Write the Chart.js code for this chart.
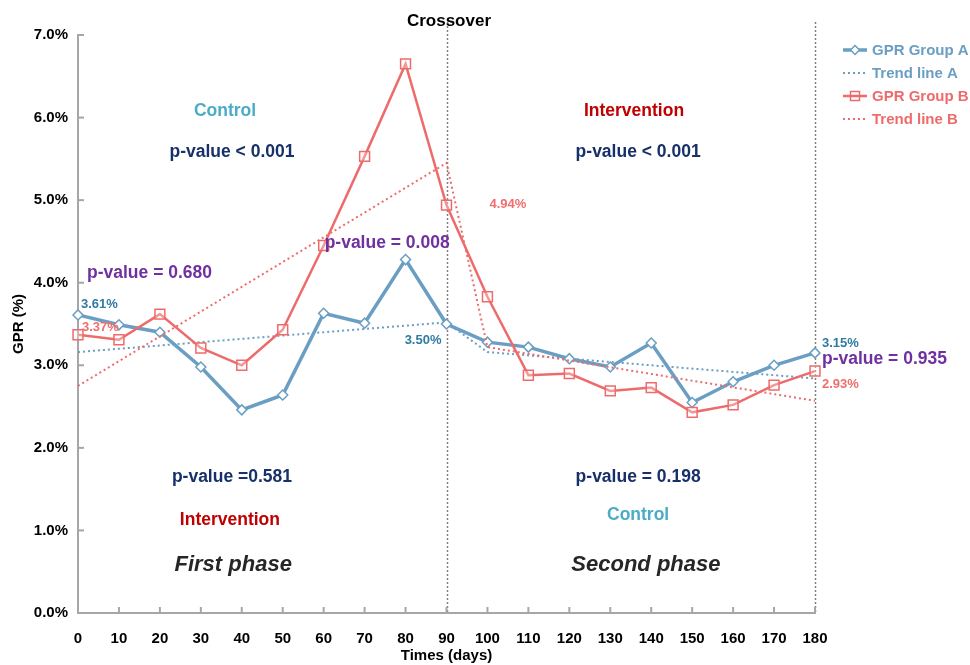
<!DOCTYPE html>
<html>
<head>
<meta charset="utf-8">
<script src="https://cdn.jsdelivr.net/npm/chart.js@4.4.1/dist/chart.umd.min.js"></script>
<style>
  html, body { margin: 0; padding: 0; background: #fff; }
</style>
</head>
<body>
<canvas id="gprChart" width="970" height="665"></canvas>
<script>
// Data
const days = [0, 10, 20, 30, 40, 50, 60, 70, 80, 90, 100, 110, 120, 130, 140, 150, 160, 170, 180];
const groupA = [3.61, 3.49, 3.40, 2.98, 2.46, 2.64, 3.63, 3.51, 4.28, 3.50, 3.28, 3.22, 3.08, 2.98, 3.27, 2.55, 2.80, 3.00, 3.15];
const groupB = [3.37, 3.31, 3.62, 3.21, 3.00, 3.43, 4.45, 5.53, 6.65, 4.94, 3.83, 2.88, 2.90, 2.69, 2.73, 2.43, 2.52, 2.76, 2.93];
// trend lines: fitted per phase, only their end points are drawn
const trendDays = [0, 90, 100, 180];
const trendA = [3.16, 3.52, 3.16, 2.84];
const trendB = [2.75, 5.45, 3.22, 2.57];
const yTicks = [0, 1, 2, 3, 4, 5, 6, 7];
const phaseLines = [90, 180];

const blue = '#6A9EC2';
const red = '#EE6B6B';
const blueLbl = '#2F7BA2';
const redLbl = '#F06E6E';
const navy = '#17306A';
const purple = '#7030A0';
const cyan = '#4BACC6';
const darkRed = '#C00000';

const FONT = '"Liberation Sans", Arial, sans-serif';

// text placed on the data grid: [text, day, value, color, size, align, italic]
const notes = [
  ['Crossover', 90.6, 7.17, '#000', 17, 'center', false],
  ['Control', 35.9, 6.08, cyan, 17.5, 'center', false],
  ['p-value < 0.001', 37.6, 5.58, navy, 17.5, 'center', false],
  ['p-value = 0.680', 2.2, 4.11, purple, 17.5, 'left', false],
  ['p-value = 0.008', 75.5, 4.48, purple, 17.5, 'center', false],
  ['Intervention', 135.8, 6.08, darkRed, 17.5, 'center', false],
  ['p-value < 0.001', 136.8, 5.58, navy, 17.5, 'center', false],
  ['p-value =0.581', 37.6, 1.65, navy, 17.5, 'center', false],
  ['Intervention', 37.1, 1.12, darkRed, 17.5, 'center', false],
  ['First phase', 37.9, 0.58, '#262626', 22, 'center', true],
  ['p-value = 0.198', 136.8, 1.65, navy, 17.5, 'center', false],
  ['Control', 136.8, 1.18, cyan, 17.5, 'center', false],
  ['Second phase', 138.7, 0.58, '#262626', 22, 'center', true],
  ['p-value = 0.935', 181.7, 3.08, purple, 17.5, 'left', false]
];

// value labels next to points: [datasetIndex, pointIndex, dx, dy, align]
const pointLabels = [
  [0, 0, 3, -10, 'left'],
  [2, 0, 4, -7, 'left'],
  [0, 9, -5, 16, 'right'],
  [2, 9, 43, -1, 'left'],
  [0, 18, 7, -9, 'left'],
  [2, 18, 7, 13, 'left']
];

const legendItems = [
  { text: 'GPR Group A', color: blue, dotted: false, style: 'diamond' },
  { text: 'Trend line A', color: blue, dotted: true },
  { text: 'GPR Group B', color: red, dotted: false, style: 'square' },
  { text: 'Trend line B', color: red, dotted: true }
];

const toPoints = (xs, ys) => xs.map((x, i) => ({ x: x, y: ys[i] }));

const decorPlugin = {
  id: 'decor',
  beforeDatasetsDraw(chart) {
    const ctx = chart.ctx;
    const x = chart.scales.x, y = chart.scales.y;
    ctx.save();
    ctx.strokeStyle = '#808080';
    ctx.lineWidth = 1.5;
    ctx.setLineDash([2, 2]);
    phaseLines.forEach(d => {
      const px = Math.round(x.getPixelForValue(d)) + 0.5;
      ctx.beginPath();
      ctx.moveTo(px, 22);
      ctx.lineTo(px, y.bottom);
      ctx.stroke();
    });
    ctx.restore();
  },
  afterDraw(chart) {
    const ctx = chart.ctx;
    const x = chart.scales.x, y = chart.scales.y;
    ctx.save();
    // inside tick marks
    ctx.strokeStyle = '#a6a6a6';
    ctx.lineWidth = 2;
    x.ticks.forEach(t => {
      const px = x.getPixelForValue(t.value);
      ctx.beginPath();
      ctx.moveTo(px, y.bottom);
      ctx.lineTo(px, y.bottom - 6);
      ctx.stroke();
    });
    y.ticks.forEach(t => {
      const py = y.getPixelForValue(t.value);
      ctx.beginPath();
      ctx.moveTo(x.left, py);
      ctx.lineTo(x.left + 6, py);
      ctx.stroke();
    });

    // annotations
    ctx.textBaseline = 'middle';
    notes.forEach(n => {
      ctx.font = (n[6] ? 'italic ' : '') + 'bold ' + n[4] + 'px ' + FONT;
      ctx.fillStyle = n[3];
      ctx.textAlign = n[5];
      ctx.fillText(n[0], x.getPixelForValue(n[1]), y.getPixelForValue(n[2]));
    });

    // point value labels
    ctx.font = 'bold 13px ' + FONT;
    pointLabels.forEach(p => {
      const ds = chart.data.datasets[p[0]];
      const pt = chart.getDatasetMeta(p[0]).data[p[1]];
      ctx.fillStyle = p[0] === 0 ? blueLbl : redLbl;
      ctx.textAlign = p[4];
      ctx.fillText(ds.data[p[1]].y.toFixed(2) + '%', pt.x + p[2], pt.y + p[3]);
    });

    // legend
    ctx.font = 'bold 15px ' + FONT;
    ctx.textAlign = 'left';
    legendItems.forEach((it, i) => {
      const ly = 50 + i * 23;
      ctx.strokeStyle = it.color;
      ctx.fillStyle = it.color;
      if (it.dotted) {
        ctx.lineWidth = 2;
        ctx.setLineDash([2, 3]);
      } else {
        ctx.lineWidth = it.style === 'diamond' ? 3.5 : 2.5;
        ctx.setLineDash([]);
      }
      ctx.beginPath();
      ctx.moveTo(843, ly);
      ctx.lineTo(867, ly);
      ctx.stroke();
      ctx.setLineDash([]);
      if (it.style === 'diamond') {
        ctx.lineWidth = 1.5;
        ctx.fillStyle = '#fff';
        ctx.beginPath();
        ctx.moveTo(855, ly - 4.5);
        ctx.lineTo(859.5, ly);
        ctx.lineTo(855, ly + 4.5);
        ctx.lineTo(850.5, ly);
        ctx.closePath();
        ctx.fill();
        ctx.stroke();
      } else if (it.style === 'square') {
        ctx.lineWidth = 1.5;
        ctx.strokeRect(850.5, ly - 4.5, 9, 9);
      }
      ctx.fillStyle = it.color;
      ctx.fillText(it.text, 872, ly + 1);
    });
    ctx.restore();
  }
};

new Chart(document.getElementById('gprChart'), {
  type: 'line',
  data: {
    datasets: [
      {
        label: 'GPR Group A',
        data: toPoints(days, groupA),
        borderColor: blue,
        borderWidth: 3.5,
        pointStyle: 'rectRot',
        pointRadius: 5,
        pointBackgroundColor: '#fff',
        pointBorderColor: blue,
        pointBorderWidth: 1.5,
        tension: 0,
        clip: false,
        order: 3
      },
      {
        label: 'Trend line A',
        data: toPoints(trendDays, trendA),
        borderColor: blue,
        borderWidth: 2,
        borderDash: [2, 3],
        pointRadius: 0,
        clip: false,
        order: 4
      },
      {
        label: 'GPR Group B',
        data: toPoints(days, groupB),
        borderColor: red,
        borderWidth: 2.5,
        pointStyle: 'rect',
        pointRadius: 7,
        pointBackgroundColor: 'rgba(255,255,255,0.3)',
        pointBorderColor: red,
        pointBorderWidth: 1.5,
        tension: 0,
        clip: false,
        order: 1
      },
      {
        label: 'Trend line B',
        data: toPoints(trendDays, trendB),
        borderColor: red,
        borderWidth: 2,
        borderDash: [2, 3],
        pointRadius: 0,
        clip: false,
        order: 2
      }
    ]
  },
  options: {
    responsive: false,
    animation: false,
    layout: { padding: { left: 10, top: 35, right: 155, bottom: 0 } },
    plugins: {
      legend: { display: false },
      tooltip: { enabled: false }
    },
    scales: {
      x: {
        type: 'linear',
        min: 0,
        max: 180,
        afterFit: s => { s.height = 52; },
        ticks: { stepSize: 10, color: '#000', padding: 9, font: { family: FONT, size: 15, weight: 'bold' } },
        grid: { display: false },
        border: { display: true, color: '#a6a6a6', width: 2 },
        title: { display: true, text: 'Times (days)', color: '#000', padding: { top: 0, bottom: 0 }, font: { family: FONT, size: 15, weight: 'bold' } }
      },
      y: {
        min: yTicks[0],
        max: yTicks[yTicks.length - 1],
        afterFit: s => { s.width = 68; },
        afterBuildTicks: s => { s.ticks = yTicks.map(v => ({ value: v })); },
        ticks: {
          color: '#000',
          padding: 2,
          font: { family: FONT, size: 15, weight: 'bold' },
          callback: v => v.toFixed(1) + '%'
        },
        grid: { display: false },
        border: { display: true, color: '#a6a6a6', width: 2 },
        title: { display: true, text: 'GPR (%)', color: '#000', padding: 0, font: { family: FONT, size: 15, weight: 'bold' } }
      }
    }
  },
  plugins: [decorPlugin]
});
</script>
</body>
</html>
